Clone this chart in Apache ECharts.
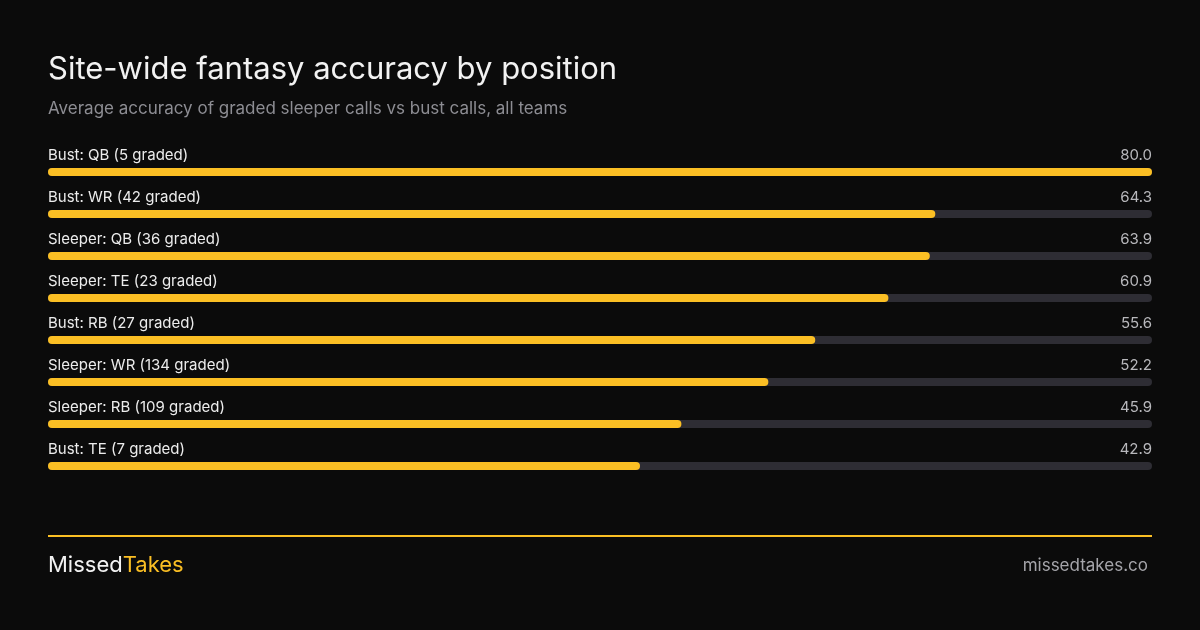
<!DOCTYPE html>
<html><head><meta charset="utf-8">
<script src="https://cdn.jsdelivr.net/npm/echarts@6/dist/echarts.min.js"></script>
<style>html,body{margin:0;padding:0;background:#0b0b0b}#c{width:1200px;height:630px}</style>
</head><body><div id="c"></div>
<script>
const categories = ["Bust: QB (5 graded)","Bust: WR (42 graded)","Sleeper: QB (36 graded)","Sleeper: TE (23 graded)","Bust: RB (27 graded)","Sleeper: WR (134 graded)","Sleeper: RB (109 graded)","Bust: TE (7 graded)"];
const values = [80.0,64.3,63.9,60.9,55.6,52.2,45.9,42.9];
const maxValue = 80;
const F = 'Inter, "Noto Sans", sans-serif';
const chart = echarts.init(document.getElementById('c'));
chart.setOption({
  backgroundColor:'#0b0b0b',
  animation:false,
  grid:{left:48,right:48,top:151,height:336},
  xAxis:{type:'value',min:0,max:maxValue,show:false},
  yAxis:{type:'category',data:categories,inverse:true,show:false},
  series:[
    {type:'bar',data:categories.map(()=>maxValue),barWidth:8,barGap:'-100%',silent:true,
     itemStyle:{color:'#2e2d34',borderRadius:4},
     label:{show:true,position:['100%',-5],align:'right',verticalAlign:'bottom',
       formatter:p=>values[p.dataIndex].toFixed(1),color:'#b8b8bc',fontSize:15,fontFamily:F}},
    {type:'bar',data:values,barWidth:8,barGap:'-100%',
     itemStyle:{color:'#fbbf24',borderRadius:4},
     label:{show:true,position:[0,-5],align:'left',verticalAlign:'bottom',
       formatter:p=>p.name,color:'#ececec',fontSize:15,fontFamily:F}}
  ],
  graphic:[
    {type:'text',left:48,top:54,style:{text:'Site-wide fantasy accuracy by position',fill:'#f2f2f2',font:'400 31px '+F}},
    {type:'text',left:48,top:100,style:{text:'Average accuracy of graded sleeper calls vs bust calls, all teams',fill:'#8d8d93',font:'17px '+F}},
    {type:'rect',shape:{x:48,y:535,width:1104,height:2},style:{fill:'#fbbf24'}},
    {type:'text',left:48,top:554,style:{rich:{a:{fill:'#f2f2f2',font:'22px '+F},b:{fill:'#fbbf24',font:'22px '+F}},text:'{a|Missed}{b|Takes}'}},
    {type:'text',right:52,top:557,style:{text:'missedtakes.co',fill:'#a5a5aa',font:'17px '+F}}
  ]
});
</script></body></html>
